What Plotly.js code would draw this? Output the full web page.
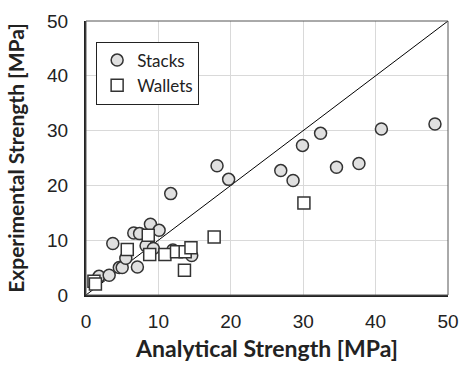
<!DOCTYPE html>
<html><head><meta charset="utf-8">
<script src="https://cdn.plot.ly/plotly-3.0.1.min.js"></script>
<style>html,body{margin:0;padding:0;background:#fff}#c{width:460px;height:365px}</style>
</head><body><div id="c"></div>
<script>
const stacksX = [1.8, 3.2, 3.7, 4.6, 5.0, 5.5, 6.6, 7.4, 7.1, 8.3, 8.9, 10.1, 9.3, 11.7, 12.0, 14.6, 18.1, 19.7, 26.9, 28.6, 29.9, 32.4, 34.6, 37.7, 40.8, 48.2];
const stacksY = [3.4, 3.6, 9.4, 5.0, 5.0, 6.7, 11.3, 11.2, 5.1, 9.0, 12.9, 11.8, 8.5, 18.5, 8.2, 7.2, 23.6, 21.1, 22.7, 20.9, 27.3, 29.5, 23.3, 24.0, 30.3, 31.2];
const walletsX = [1.1, 1.3, 5.7, 8.6, 8.8, 10.9, 12.5, 13.7, 14.5, 13.6, 17.7, 30.1];
const walletsY = [2.5, 2.0, 8.3, 10.9, 7.4, 7.4, 7.9, 7.9, 8.6, 4.5, 10.6, 16.8];
const lineX = [0, 50];
const lineY = [0, 50];
const xTicks = [0, 10, 20, 30, 40, 50];
const yTicks = [0, 10, 20, 30, 40, 50];

const traces = [
  {x: lineX, y: lineY, mode: 'lines', line: {color: '#000', width: 1}, showlegend: false, hoverinfo: 'skip'},
  {x: stacksX, y: stacksY, mode: 'markers', name: 'Stacks',
   marker: {symbol: 'circle', size: 12, color: '#e0e0e0', line: {color: '#333', width: 1.5}}},
  {x: walletsX, y: walletsY, mode: 'markers', name: 'Wallets',
   marker: {symbol: 'square', size: 12, color: '#fff', line: {color: '#333', width: 1.5}}}
];
const tickFont = {family: 'Liberation Sans, Arial, sans-serif', size: 19, color: '#222'};
const layout = {
  width: 460, height: 365,
  margin: {l: 86, r: 12, t: 21, b: 70},
  paper_bgcolor: '#fff', plot_bgcolor: '#fff',
  xaxis: {range: [0, 50], tickvals: xTicks, ticktext: xTicks.map(String), showgrid: true, gridcolor: '#d9d9d9', gridwidth: 1,
    zeroline: false, showline: true, linecolor: '#222', linewidth: 2, ticks: '', tickfont: tickFont, ticklabelstandoff: 8,
    title: {text: 'Analytical Strength [MPa]', font: {family: 'Lato, Open Sans, sans-serif', size: 23, color: '#222', weight: 'bold'}, standoff: 10}},
  yaxis: {range: [0, 50], tickvals: yTicks, ticktext: yTicks.map(String), showgrid: true, gridcolor: '#d9d9d9', gridwidth: 1,
    zeroline: false, showline: true, linecolor: '#222', linewidth: 2, ticks: '', tickfont: tickFont, ticklabelstandoff: 12,
    title: {text: 'Experimental Strength [MPa]', font: {family: 'Lato, Open Sans, sans-serif', size: 21, color: '#222', weight: 'bold'}, standoff: 17}},
  shapes: [{type: 'rect', xref: 'paper', yref: 'paper', x0: 0, x1: 1, y0: 0, y1: 1, line: {color: '#555', width: 1}, layer: 'above'}],
  legend: {x: 0.028, y: 0.925, xanchor: 'left', yanchor: 'top', bgcolor: '#fff', bordercolor: '#222', borderwidth: 1,
    font: {family: 'Lato, Open Sans, sans-serif', size: 17, color: '#222'}, itemwidth: 30, tracegroupgap: 0},
  showlegend: true
};
Plotly.newPlot('c', traces, layout, {displayModeBar: false, staticPlot: true});
</script>
</body></html>
